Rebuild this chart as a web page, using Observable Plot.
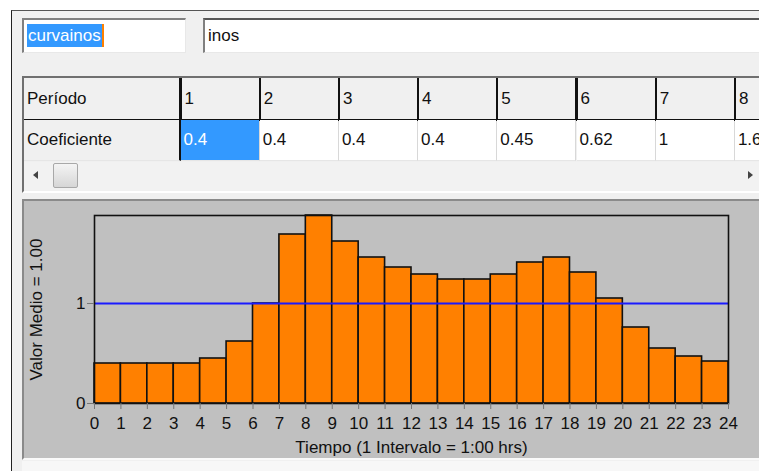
<!DOCTYPE html>
<html>
<head>
<meta charset="utf-8">
<script src="https://cdn.jsdelivr.net/npm/d3@7"></script>
<script src="https://cdn.jsdelivr.net/npm/@observablehq/plot@0.6"></script>
<style>
  html, body { margin: 0; padding: 0; }
  body { width: 759px; height: 471px; position: relative; overflow: hidden; background: #fff;
         font-family: "Liberation Sans", Arial, sans-serif; font-size: 17px; color: #111; }
  .abs { position: absolute; box-sizing: border-box; }
  .cell { position: absolute; box-sizing: border-box; padding-left: 3px; display: flex; align-items: center; white-space: nowrap; overflow: hidden; }
</style>
</head>
<body>
<div class="abs" style="left:11px;top:10px;width:800px;height:500px;background:#f0f0f0;border-left:1.5px solid #222;border-top:1.5px solid #555;"></div>

<!-- pattern id / description boxes -->
<div class="abs" style="left:22px;top:18px;width:164px;height:35px;background:#fff;border-top:2px solid #808080;border-left:2px solid #808080;border-bottom:1px solid #e8e8e8;border-right:1px solid #e8e8e8;"></div>
<div class="abs" id="patId" style="left:27px;top:24px;height:23px;background:#3399ff;color:#fff;line-height:23px;padding:0 1px;border-right:2px solid #ff8000;"></div>
<div class="abs" style="left:203px;top:18px;width:600px;height:35px;background:#fff;border-top:2px solid #555;border-left:2px solid #808080;border-bottom:1px solid #e8e8e8;"></div>
<div class="abs" id="patDesc" style="left:208px;top:24px;height:23px;line-height:23px;"></div>

<!-- table -->
<div class="abs" style="left:22px;top:76px;width:760px;height:117px;background:#f0f0f0;border-top:2px solid #707070;border-left:2px solid #707070;border-bottom:2px solid #fff;"></div>
<div id="grid"></div>
<!-- scrollbar -->
<div class="abs" style="left:24px;top:162px;width:740px;height:28px;background:#f2f2f2;"></div>
<div class="abs" style="left:33px;top:171px;width:0;height:0;border-top:4.5px solid transparent;border-bottom:4.5px solid transparent;border-right:5px solid #444;"></div>
<div class="abs" style="left:53px;top:163px;width:25px;height:25px;border:1px solid #a8a8a8;border-radius:2px;background:linear-gradient(#f4f4f4,#d6d6d6);"></div>
<div class="abs" style="left:748px;top:171px;width:0;height:0;border-top:4.5px solid transparent;border-bottom:4.5px solid transparent;border-left:5px solid #444;"></div>

<!-- chart panel -->
<div class="abs" style="left:22px;top:199px;width:760px;height:261px;background:#c0c0c0;border-top:2px solid #8a8a8a;border-left:2px solid #8a8a8a;border-bottom:2px solid #fafafa;"></div>
<div class="abs" id="chart" style="left:22px;top:200px;"></div>
<div class="abs" style="left:22px;top:461px;width:760px;height:12px;background:#f7f7f7;"></div>

<script>
// ---- data ----
const patternId = "curvainos";
const patternDesc = "inos";
const rowLabels = ["Período", "Coeficiente"];
const hours = [0,1,2,3,4,5,6,7,8,9,10,11,12,13,14,15,16,17,18,19,20,21,22,23];
const coef = [0.4,0.4,0.4,0.4,0.45,0.62,1,1.69,1.88,1.62,1.46,1.36,1.29,1.24,1.24,1.29,1.41,1.46,1.31,1.05,0.76,0.55,0.47,0.42];
const meanValue = [1];
const xTicks = [0,1,2,3,4,5,6,7,8,9,10,11,12,13,14,15,16,17,18,19,20,21,22,23,24];
const yTicks = [0, 1];
const yLabel = "Valor Medio = 1.00";
const xLabel = "Tiempo (1 Intervalo = 1:00 hrs)";

document.getElementById("patId").textContent = patternId;
document.getElementById("patDesc").textContent = patternDesc;

// ---- grid (table) ----
const grid = document.getElementById("grid");
function cell(x, y, w, h, text, style) {
  const d = document.createElement("div");
  d.className = "cell";
  d.style.left = x + "px"; d.style.top = y + "px";
  d.style.width = w + "px"; d.style.height = h + "px";
  Object.assign(d.style, style);
  d.textContent = text;
  grid.appendChild(d);
}
const col0 = 24, col1 = 179.5, colW = 79.2, row0 = 78, rowH = 42;
cell(col0, row0, col1 - col0 + 1, rowH + 1, rowLabels[0], {background:"#f0f0f0", borderRight:"2px solid #111", borderBottom:"2px solid #111"});
cell(col0, row0 + rowH, col1 - col0 + 1, rowH - 1, rowLabels[1], {background:"#f0f0f0", borderRight:"2px solid #111", borderBottom:"1px solid #e6e6e6"});
for (let i = 0; i < 8; i++) {
  const x = col1 + i * colW;
  cell(x, row0, colW + 1, rowH + 1, String(hours[i] + 1), {background:"#f0f0f0", borderLeft:"2px solid #111", borderRight:"1px solid #111", borderBottom:"2px solid #111"});
  const sel = i === 0;
  cell(x + 1, row0 + rowH, colW, rowH - 1, String(coef[i]),
       {background: sel ? "#3399ff" : "#fff", color: sel ? "#fff" : "#111",
        borderRight:"1px solid #d8d8d8", borderBottom:"1px solid #e6e6e6"});
}

// ---- chart ----
const data = hours.map((h, i) => ({h, v: coef[i]}));
const chart = Plot.plot({
  width: 737,
  height: 259,
  marginLeft: 72,
  marginRight: 31,
  marginTop: 15,
  marginBottom: 56,
  style: {background: "transparent", fontFamily: "'Liberation Sans', Arial, sans-serif", fontSize: "17px", color: "#111", overflow: "visible"},
  x: {domain: [0, 24]},
  y: {domain: [0, d3.max(coef)]},
  marks: [
    Plot.rectY(data, {x1: "h", x2: d => d.h + 1, y: "v", fill: "#ff8000", stroke: "#111", strokeWidth: 1.6}),
    Plot.ruleY(meanValue, {stroke: "#1a1aff", strokeWidth: 2}),
    Plot.frame({stroke: "#111", strokeWidth: 1.6}),
    Plot.axisX({ticks: xTicks, tickFormat: d => String(d), tickSize: 6, tickPadding: 7, stroke: "#777", fill: "#111", label: null}),
    Plot.axisY({ticks: yTicks, tickFormat: d => String(d), tickSize: 7, tickPadding: 2, stroke: "#777", fill: "#111", label: null}),
    Plot.text([yLabel], {frameAnchor: "left", rotate: -90, dx: -58, textAnchor: "middle", lineAnchor: "middle", fill: "#111"}),
    Plot.text([xLabel], {frameAnchor: "bottom", dy: 44, textAnchor: "middle", lineAnchor: "middle", fill: "#111"})
  ]
});
document.getElementById("chart").appendChild(chart);
</script>
</body>
</html>
